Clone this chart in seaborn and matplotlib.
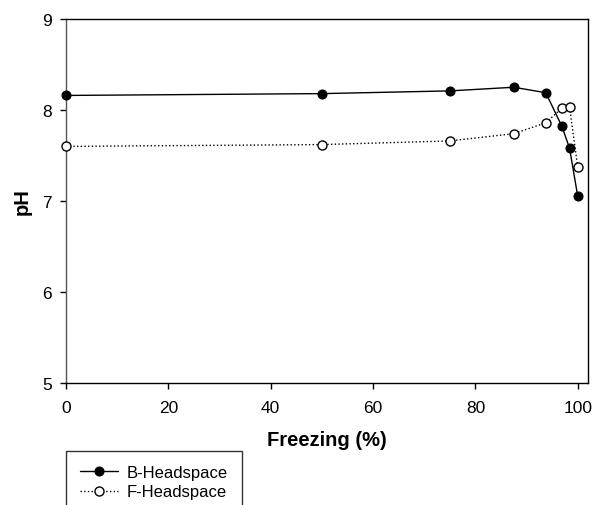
import matplotlib
matplotlib.use("Agg")
import matplotlib.pyplot as plt
import seaborn as sns
import pandas as pd

freezing = [0, 50, 75, 87.5, 93.75, 96.9, 98.4, 100]
b_headspace = [8.16, 8.18, 8.21, 8.25, 8.19, 7.82, 7.58, 7.05]
f_headspace = [7.60, 7.62, 7.66, 7.74, 7.86, 8.02, 8.03, 7.37]
x_ticks = [0, 20, 40, 60, 80, 100]
y_ticks = [5, 6, 7, 8, 9]

sns.set_theme(style="ticks")
plt.rcParams['font.family'] = ['Liberation Sans', 'DejaVu Sans']
plt.rcParams['text.color'] = 'black'
plt.rcParams['axes.labelcolor'] = 'black'

fig = plt.figure(figsize=(5.93, 5.06), dpi=100)
ax = fig.add_axes([66/593, 1-384/506, (588-66)/593, (384-20)/506])

df_b = pd.DataFrame({"x": freezing, "y": b_headspace})
df_f = pd.DataFrame({"x": freezing, "y": f_headspace})

sns.lineplot(data=df_b, x="x", y="y", ax=ax, color="black", linewidth=1.0,
             marker="o", markersize=6.5, markerfacecolor="black",
             markeredgecolor="black", label="B-Headspace", clip_on=False, zorder=3)
sns.lineplot(data=df_f, x="x", y="y", ax=ax, color="black", linewidth=1.0,
             linestyle=":", marker="o", markersize=6.5, markerfacecolor="white",
             markeredgecolor="black", markeredgewidth=1.0,
             label="F-Headspace", clip_on=False, zorder=3)

ax.set_xlim(0, 102)
ax.set_ylim(5, 9)
ax.set_xticks(x_ticks)
ax.set_yticks(y_ticks)
ax.set_xticklabels([str(t) for t in x_ticks])
ax.set_yticklabels([str(t) for t in y_ticks])
ax.tick_params(axis="both", direction="out", length=4, width=1, labelsize=12.5,
               colors="black", pad=6)
ax.tick_params(axis="x", pad=8)
for s in ["top", "right", "bottom", "left"]:
    ax.spines[s].set_visible(True)
    ax.spines[s].set_color("black")
    ax.spines[s].set_linewidth(1.0)
ax.spines["left"].set_color("#555555")

ax.set_xlabel("Freezing (%)", fontsize=14.5, fontweight="bold", labelpad=11,
              color="black")
ax.set_ylabel("pH", fontsize=14.5, fontweight="bold", labelpad=8, color="black")

handles, labels = ax.get_legend_handles_labels()
ax.get_legend().remove()
leg = fig.legend(handles, labels, loc="upper left",
                 bbox_to_anchor=(66/593, 1-452/506), frameon=True,
                 fancybox=False, edgecolor="black", fontsize=12,
                 handlelength=2.3, handletextpad=0.5, borderpad=0.85,
                 labelspacing=0.25, borderaxespad=0)
leg.get_frame().set_linewidth(1.0)

fig.savefig("out.png", dpi=100)
